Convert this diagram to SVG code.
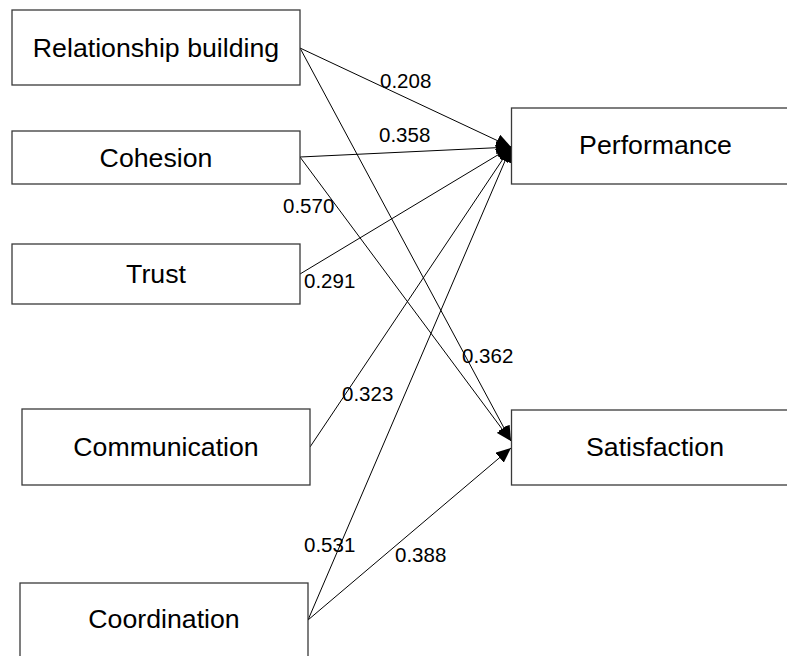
<svg xmlns="http://www.w3.org/2000/svg" width="787" height="656" viewBox="0 0 787 656">
  <style>
    .box { fill: #ffffff; stroke: #3a3a3a; stroke-width: 1.3; }
    .name { font-family: "Liberation Sans", Arial, sans-serif; font-size: 26.7px; fill: #000; text-anchor: middle; }
    .coef { font-family: "Liberation Sans", Arial, sans-serif; font-size: 20.5px; fill: #000; }
    .path { stroke: #000; stroke-width: 1; fill: none; marker-end: url(#head); }
  </style>
  <defs>
    <marker id="head" markerUnits="userSpaceOnUse" markerWidth="16" markerHeight="13" refX="15" refY="6.5" orient="auto">
      <path d="M0,0 L15,6.5 L0,13 z" fill="#000"/>
    </marker>
  </defs>
  <rect width="787" height="656" fill="#ffffff"/>

  <g id="connectors">
    <line class="path" x1="300" y1="48" x2="511" y2="147"/>
    <line class="path" x1="300" y1="48" x2="511" y2="441"/>
    <line class="path" x1="300" y1="157" x2="511" y2="147"/>
    <line class="path" x1="300" y1="157" x2="511" y2="441"/>
    <line class="path" x1="300" y1="274" x2="511" y2="147"/>
    <line class="path" x1="310" y1="447" x2="511" y2="147"/>
    <line class="path" x1="308" y1="620" x2="511" y2="147"/>
    <line class="path" x1="308" y1="620" x2="511" y2="448"/>
  </g>

  <g id="coefficients">
    <text class="coef" x="380" y="88">0.208</text>
    <text class="coef" x="379" y="142">0.358</text>
    <text class="coef" x="283" y="213">0.570</text>
    <text class="coef" x="304" y="288">0.291</text>
    <text class="coef" x="462" y="363">0.362</text>
    <text class="coef" x="342" y="401">0.323</text>
    <text class="coef" x="304" y="552">0.531</text>
    <text class="coef" x="395" y="562">0.388</text>
  </g>

  <g id="relationship-building">
    <rect class="box" x="12" y="10" width="288" height="75"/>
    <text class="name" x="156" y="57">Relationship building</text>
  </g>
  <g id="cohesion">
    <rect class="box" x="12" y="131" width="288" height="53"/>
    <text class="name" x="156" y="166.5">Cohesion</text>
  </g>
  <g id="trust">
    <rect class="box" x="12" y="244" width="288" height="60"/>
    <text class="name" x="156" y="283">Trust</text>
  </g>
  <g id="communication">
    <rect class="box" x="22" y="409" width="288" height="76"/>
    <text class="name" x="166" y="456">Communication</text>
  </g>
  <g id="coordination">
    <rect class="box" x="20" y="583" width="288" height="80"/>
    <text class="name" x="164" y="628">Coordination</text>
  </g>
  <g id="performance">
    <rect class="box" x="511.5" y="108" width="290" height="76"/>
    <text class="name" x="655.5" y="153.5">Performance</text>
  </g>
  <g id="satisfaction">
    <rect class="box" x="511.5" y="410" width="290" height="75"/>
    <text class="name" x="655" y="456">Satisfaction</text>
  </g>
</svg>
